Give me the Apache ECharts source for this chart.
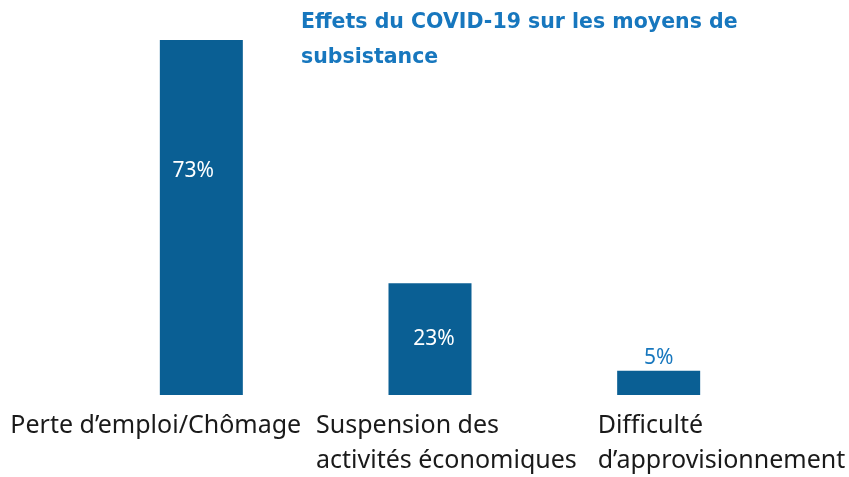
<!DOCTYPE html>
<html>
<head>
<meta charset="utf-8">
<script src="https://cdn.jsdelivr.net/npm/echarts@6/dist/echarts.min.js"></script>
<style>
  html, body { margin: 0; padding: 0; background: #fff; }
  #chart { width: 849px; height: 477px; }
</style>
</head>
<body>
<div id="chart"></div>
<script>
// data
var categories = ['Perte d’emploi/Chômage', 'Suspension des\nactivités économiques', 'Difficulté\nd’approvisionnement']
var values = [73, 23, 5]
var titleText = 'Effets du COVID-19 sur les moyens de\nsubsistance'

var barColor = '#0a5f94'
var blue = '#1777be'

// label shift per category (text starts left of the bar)
var labelShift = [-191, -114, -61]

var chart = echarts.init(document.getElementById('chart'))

var option = {
  animation: false,
  title: {
    text: titleText,
    left: 296,
    top: 0,
    textStyle: {
      color: blue,
      fontFamily: 'DejaVu Sans',
      fontWeight: 'bold',
      fontSize: 20.5,
      lineHeight: 35
    }
  },
  grid: { left: 87, right: 76, top: 6, bottom: 82, outerBoundsMode: 'none' },
  xAxis: {
    type: 'category',
    data: categories.map(function (c, i) {
      return {
        value: c,
        textStyle: { align: 'left', padding: [0, 0, 0, labelShift[i]] }
      }
    }),
    axisLine: { show: false },
    axisTick: { show: false },
    axisLabel: {
      interval: 0,
      margin: 13,
      color: '#1a1a1a',
      fontFamily: 'Noto Sans',
      fontSize: 25,
      lineHeight: 35,
      verticalAlign: 'top'
    }
  },
  yAxis: {
    type: 'value',
    min: 0,
    max: 80,
    show: false,
    splitLine: { show: false }
  },
  series: [{
    type: 'bar',
    barWidth: 83,
    itemStyle: { color: barColor },
    label: {
      show: true,
      formatter: '{c}%',
      fontFamily: 'Noto Sans',
      fontSize: 21,
      color: '#fff'
    },
    data: values.map(function (v, i) {
      if (i === 0) {
        return { value: v, label: { position: ['50%', 131], offset: [-8, 0], align: 'center', verticalAlign: 'middle' } }
      }
      if (i === 1) {
        return { value: v, label: { position: 'inside', offset: [4, 0] } }
      }
      return { value: v, label: { position: 'top', distance: 2, color: blue } }
    })
  }]
}

chart.setOption(option)
</script>
</body>
</html>
